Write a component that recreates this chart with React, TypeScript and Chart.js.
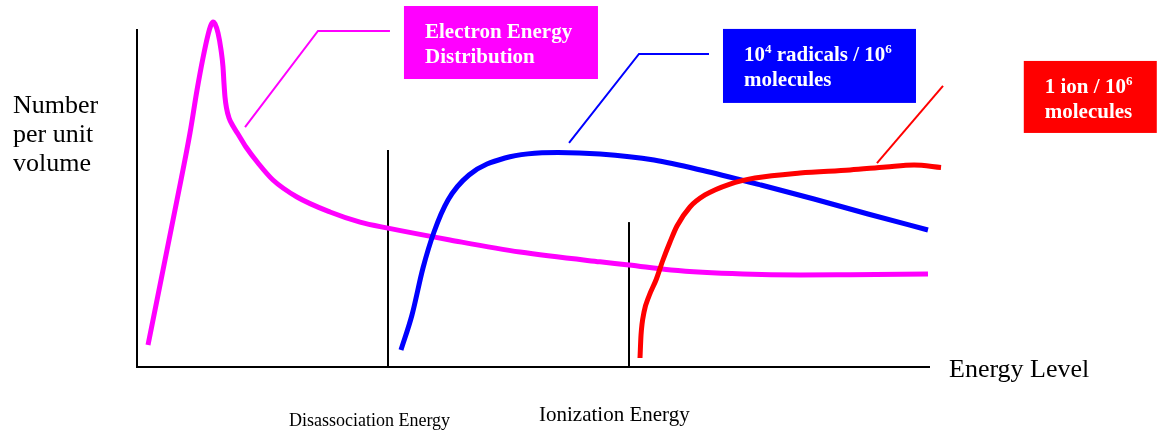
import React, { useEffect, useRef } from "react";
import { Chart, registerables } from "chart.js";

Chart.register(...registerables);

// ---- Data (arbitrary units: energy 0..100 along the axis, number 0..100 up the axis) ----
const electronEnergy = [1.39, 5.05, 6.69, 7.58, 8.33, 8.96, 9.34, 9.6, 9.85, 10.23, 10.61, 10.86, 10.98, 11.11, 11.3, 11.62, 12.12, 12.75, 13.76, 15.28, 17.17, 20.2, 24.37, 28.16, 31.69, 39.52, 48.36, 58.46, 62.12, 67.42, 76.52, 83.71, 90.03, 99.87];
const electronNumber = [6.53, 49.55, 69.44, 82.2, 91.7, 98.5, 101.5, 102.4, 101.8, 99.1, 94.1, 89.0, 84.3, 80.12, 76.85, 73.89, 71.51, 69.14, 65.28, 60.53, 55.49, 50.45, 46.0, 43.0, 41.2, 37.7, 34.1, 31.2, 30.3, 28.8, 27.6, 27.3, 27.4, 27.6];

const radicalEnergy = [33.33, 34.72, 36.11, 37.5, 39.27, 41.92, 46.46, 53.16, 58.46, 65.28, 71.97, 78.79, 85.48, 92.3, 99.87];
const radicalNumber = [5.04, 15.43, 29.38, 40.06, 49.55, 56.97, 62.02, 63.65, 63.2, 61.42, 58.01, 54.01, 49.85, 45.4, 40.65];

const ionEnergy = [63.51, 63.64, 64.02, 64.65, 65.53, 66.41, 67.3, 68.18, 69.82, 71.72, 74.87, 78.03, 83.71, 90.03, 94.57, 98.11, 101.52];
const ionNumber = [2.67, 9.5, 16.32, 21.07, 25.82, 31.75, 37.09, 41.84, 47.48, 51.04, 54.3, 56.08, 57.57, 58.46, 59.35, 59.94, 59.2];

// threshold markers: [energy, marker height]
const dissociationMarker = [31.69, 64.4];
const ionizationMarker = [62.12, 43.0];

// callout leader lines (energy, number)
const electronLeaderX = [13.64, 22.85, 31.94];
const electronLeaderY = [71.2, 99.7, 99.7];
const radicalLeaderX = [54.55, 63.38, 72.22];
const radicalLeaderY = [66.5, 92.9, 92.9];
const ionLeaderX = [93.43, 101.77, 110.2];
const ionLeaderY = [60.5, 83.4, 83.4];

// texts
const yAxisTitle = ["Number", "per unit", "volume"];
const xAxisTitle = "Energy Level";
const dissociationLabel = "Disassociation Energy";
const ionizationLabel = "Ionization Energy";

type Seg = { t: string; sup?: boolean };
const electronCallout: Seg[][] = [[{ t: "Electron Energy" }], [{ t: "Distribution" }]];
const radicalCallout: Seg[][] = [
  [{ t: "10" }, { t: "4", sup: true }, { t: " radicals / 10" }, { t: "6", sup: true }],
  [{ t: "molecules" }],
];
const ionCallout: Seg[][] = [
  [{ t: "1 ion / 10" }, { t: "6", sup: true }],
  [{ t: "molecules" }],
];

const MAGENTA = "#FF00FF";
const BLUE = "#0000FF";
const RED = "#FF0000";
const SERIF = '"Liberation Serif", "Times New Roman", serif';

const pts = (xs: number[], ys: number[]) => xs.map((x, i) => ({ x, y: ys[i] }));

const callouts = [
  { leaderX: electronLeaderX, leaderY: electronLeaderY, lines: electronCallout, color: MAGENTA, w: 194, h: 73 },
  { leaderX: radicalLeaderX, leaderY: radicalLeaderY, lines: radicalCallout, color: BLUE, w: 193, h: 74 },
  { leaderX: ionLeaderX, leaderY: ionLeaderY, lines: ionCallout, color: RED, w: 133, h: 72 },
];

const annotPlugin = {
  id: "annot",
  afterDraw(chart: any) {
    const ctx: CanvasRenderingContext2D = chart.ctx;
    const xs = chart.scales.x;
    const ys = chart.scales.y;
    ctx.save();
    // callout boxes
    for (const c of callouts) {
      const ex = xs.getPixelForValue(c.leaderX[c.leaderX.length - 1]);
      const ey = ys.getPixelForValue(c.leaderY[c.leaderY.length - 1]);
      const bx = ex + 14;
      const by = ey - 25;
      ctx.fillStyle = c.color;
      ctx.fillRect(bx, by, c.w, c.h);
      ctx.fillStyle = "#FFFFFF";
      ctx.textBaseline = "alphabetic";
      ctx.textAlign = "left";
      c.lines.forEach((line, li) => {
        let x = bx + 21;
        const y = by + 32 + li * 25;
        for (const s of line) {
          ctx.font = s.sup ? `bold 13px ${SERIF}` : `bold 21px ${SERIF}`;
          ctx.fillText(s.t, x, s.sup ? y - 8 : y);
          x += ctx.measureText(s.t).width;
        }
      });
    }
    // axis titles
    ctx.fillStyle = "#000000";
    ctx.textAlign = "left";
    ctx.font = `26px ${SERIF}`;
    const left = chart.chartArea.left;
    const bottom = chart.chartArea.bottom;
    yAxisTitle.forEach((t, i) => ctx.fillText(t, left - 124, 113 + i * 29));
    ctx.fillText(xAxisTitle, chart.chartArea.right + 20, bottom + 10);
    ctx.font = `18px ${SERIF}`;
    ctx.fillText(dissociationLabel, xs.getPixelForValue(dissociationMarker[0]) - 99, bottom + 59);
    ctx.font = `21px ${SERIF}`;
    ctx.fillText(ionizationLabel, xs.getPixelForValue(ionizationMarker[0]) - 90, bottom + 54);
    ctx.restore();
  },
};

export default function App() {
  const ref = useRef<HTMLCanvasElement | null>(null);
  useEffect(() => {
    if (!ref.current) return;
    const curve = (label: string, xsA: number[], ysA: number[], color: string, order: number) => ({
      label,
      data: pts(xsA, ysA),
      borderColor: color,
      backgroundColor: color,
      borderWidth: 5,
      pointRadius: 0,
      showLine: true,
      fill: false,
      cubicInterpolationMode: "monotone" as const,
      clip: false as any,
      order,
    });
    const thin = (label: string, xsA: number[], ysA: number[], color: string, width: number, order: number) => ({
      label,
      data: pts(xsA, ysA),
      borderColor: color,
      backgroundColor: color,
      borderWidth: width,
      pointRadius: 0,
      showLine: true,
      fill: false,
      tension: 0,
      clip: false as any,
      order,
    });
    const chart = new Chart(ref.current, {
      type: "scatter",
      data: {
        datasets: [
          curve("1 ion / 10^6 molecules", ionEnergy, ionNumber, RED, 0),
          curve("10^4 radicals / 10^6 molecules", radicalEnergy, radicalNumber, BLUE, 1),
          curve("Electron Energy Distribution", electronEnergy, electronNumber, MAGENTA, 2),
          thin("Disassociation Energy", [dissociationMarker[0], dissociationMarker[0]], [0, dissociationMarker[1]], "#000000", 2, 5),
          thin("Ionization Energy", [ionizationMarker[0], ionizationMarker[0]], [0, ionizationMarker[1]], "#000000", 2, 5),
          thin("electron leader", electronLeaderX, electronLeaderY, MAGENTA, 2, 6),
          thin("radical leader", radicalLeaderX, radicalLeaderY, BLUE, 2, 6),
          thin("ion leader", ionLeaderX, ionLeaderY, RED, 2, 6),
        ] as any,
      },
      options: {
        responsive: false,
        devicePixelRatio: 1,
        animation: false,
        layout: { padding: { left: 137, right: 235, top: 30, bottom: 66 } },
        plugins: { legend: { display: false }, tooltip: { enabled: false } },
        events: [],
        scales: {
          x: {
            type: "linear",
            min: 0,
            max: 100,
            ticks: { display: false },
            grid: { display: false, drawTicks: false, tickLength: 0 },
            border: { display: true, color: "#000000", width: 2 },
          },
          y: {
            type: "linear",
            min: 0,
            max: 100,
            ticks: { display: false },
            grid: { display: false, drawTicks: false, tickLength: 0 },
            border: { display: true, color: "#000000", width: 2 },
          },
        },
      },
      plugins: [annotPlugin],
    });
    return () => chart.destroy();
  }, []);
  return (
    <div style={{ position: "fixed", left: 0, top: 0, width: 1164, height: 433, background: "#FFFFFF" }}>
      <canvas ref={ref} width={1164} height={433} style={{ width: 1164, height: 433, display: "block" }} />
    </div>
  );
}
